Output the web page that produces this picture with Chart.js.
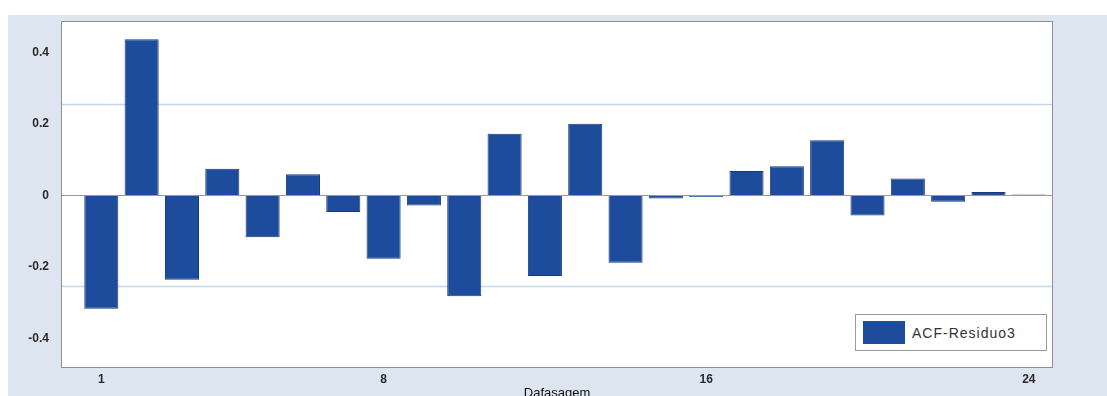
<!DOCTYPE html>
<html>
<head>
<meta charset="utf-8">
<script src="https://cdn.jsdelivr.net/npm/chart.js@4/dist/chart.umd.min.js"></script>
<style>
  html, body { margin: 0; padding: 0; background: #fff; overflow: hidden; }
  #wrap { position: relative; width: 1107px; height: 396px; overflow: hidden; }
  #bg   { position: absolute; left: 8px; top: 15px; right: 0; bottom: 0; background: #dde5f1; }
  #acfChart { position: absolute; left: 0; top: 0; }
  .legend {
    position: absolute; left: 855px; top: 314px; width: 192px; height: 37px;
    box-sizing: border-box; border: 1px solid #9a9a9a; background: #fff;
    display: flex; align-items: center;
    font: 14px 'Liberation Sans', Arial, sans-serif; letter-spacing: 1px; color: #333;
  }
  .leg-dot { width: 42px; height: 23px; margin: 0 7px 0 7px; }
</style>
</head>
<body>
<div id="wrap">
  <div id="bg"></div>
  <canvas id="acfChart" width="1107" height="404"></canvas>
  <div id="acfLegend" class="legend"></div>
</div>
<script>
// ── Dados: autocorrelação dos resíduos por defasagem ─────────
const LAGS = [1, 2, 3, 4, 5, 6, 7, 8, 9, 10, 11, 12,
              13, 14, 15, 16, 17, 18, 19, 20, 21, 22, 23, 24];
const ACF  = [-0.317, 0.438, -0.236, 0.075, -0.117, 0.060, -0.046, -0.177,
              -0.028, -0.282, 0.173, -0.225, 0.201, -0.188, -0.008, -0.004,
              0.069, 0.082, 0.155, -0.056, 0.048, -0.017, 0.010, 0.003];
const X_TICKS = [1, 8, 16, 24];
const Y_TICKS = [-0.4, -0.2, 0, 0.2, 0.4];
const BAND    = [-0.255, 0.255];   // limites de confiança
const X_RANGE = [0, 24.6];

const BAR_COLOR  = '#1d4c9c';
const BAR_EDGE   = '#173a78';
const BAND_COLOR = '#c2d8ea';
const TICK_FONT  = { family: "'Liberation Sans', Arial, sans-serif", size: 12, weight: 'bold' };

// fundo branco da área de plotagem + moldura cinza
const plotFrame = {
  id: 'plotFrame',
  beforeDraw(chart) {
    const { ctx, chartArea: a } = chart;
    ctx.save();
    ctx.fillStyle = '#fff';
    ctx.fillRect(a.left, a.top, a.right - a.left, a.bottom - a.top);
    ctx.restore();
  },
  afterDraw(chart) {
    const { ctx, chartArea: a } = chart;
    ctx.save();
    ctx.strokeStyle = '#8f8f8f';
    ctx.lineWidth = 1;
    ctx.strokeRect(a.left + 0.5, a.top + 0.5, a.right - a.left - 1, a.bottom - a.top - 1);
    ctx.restore();
  },
};

const bandSets = BAND.map(v => ({
  type: 'line',
  label: 'band',
  data: X_RANGE.map(x => ({ x, y: v })),
  borderColor: BAND_COLOR,
  borderWidth: 1.5,
  pointRadius: 0,
  order: 2,
}));

const chart = new Chart(document.getElementById('acfChart'), {
  type: 'bar',
  data: {
    datasets: [
      {
        label: 'ACF-Residuo3',
        data: LAGS.map((l, i) => ({ x: l, y: ACF[i] })),
        backgroundColor: BAR_COLOR,
        borderColor: BAR_EDGE,
        borderWidth: 1,
        barPercentage: 0.845,
        categoryPercentage: 1,
        order: 1,
      },
      ...bandSets,
    ],
  },
  plugins: [plotFrame],
  options: {
    responsive: false,
    animation: false,
    layout: { padding: { top: 21, right: 54, left: 0, bottom: 0 } },
    plugins: { legend: { display: false }, tooltip: { enabled: false } },
    scales: {
      x: {
        type: 'linear',
        min: X_RANGE[0], max: X_RANGE[1],
        offset: false,
        afterBuildTicks: s => { s.ticks = X_TICKS.map(v => ({ value: v })); },
        afterFit: s => { s.height = 36; },
        ticks: { font: TICK_FONT, color: '#2a2a2a', padding: 4 },
        grid: { display: false, drawTicks: false },
        border: { display: false },
        title: {
          display: true, text: 'Dafasagem', color: '#111',
          font: { family: "'Liberation Sans', Arial, sans-serif", size: 13 },
          padding: { top: 0, bottom: 3 },
        },
      },
      y: {
        min: -0.483, max: 0.489,
        afterBuildTicks: s => { s.ticks = Y_TICKS.map(v => ({ value: v })); },
        afterFit: s => { s.width = 61; },
        ticks: {
          font: TICK_FONT, color: '#2a2a2a', padding: 12,
          callback: v => (v === 0 ? '0' : v.toFixed(1)),
        },
        grid: {
          drawTicks: false,
          color: c => (c.tick && c.tick.value === 0 ? '#9a9a9a' : 'rgba(0,0,0,0)'),
        },
        border: { display: false },
      },
    },
  },
});

// legenda dentro do gráfico (só a série de barras)
document.getElementById('acfLegend').innerHTML = chart.data.datasets
  .filter(d => d.type !== 'line')
  .map(d => `<div class="leg-dot" style="background:${d.backgroundColor}"></div>${d.label}`)
  .join('');
</script>
</body>
</html>
